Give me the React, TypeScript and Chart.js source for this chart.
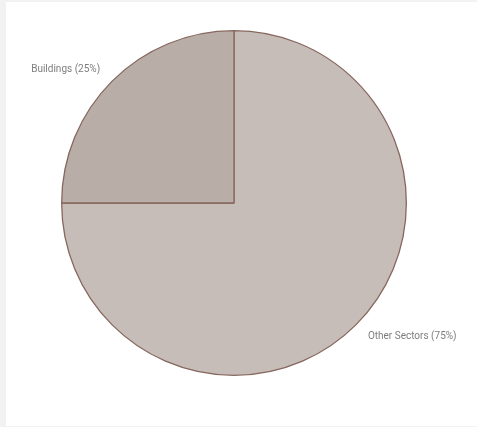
import React, { useEffect, useRef } from "react";
import { Chart, registerables } from "chart.js";

Chart.register(...registerables);

const categories = ["Other Sectors", "Buildings"];
const values = [75, 25];
const labelTexts = ["Other Sectors (75%)", "Buildings (25%)"];
const sliceColors = ["#c7bdb8", "#b9ada8"];

const outsideLabels = {
  id: "outsideLabels",
  afterDatasetsDraw(chart: any) {
    const ctx = chart.ctx;
    const meta = chart.getDatasetMeta(0);
    ctx.save();
    ctx.font = '10px "Roboto", sans-serif';
    ctx.fillStyle = "#7d7d7d";
    ctx.textBaseline = "middle";
    meta.data.forEach((arc: any, i: number) => {
      const p = arc.getProps(["x", "y", "startAngle", "endAngle", "outerRadius"], true);
      const mid = (p.startAngle + p.endAngle) / 2;
      const r = p.outerRadius + 17;
      const x = p.x + Math.cos(mid) * r;
      const y = p.y + Math.sin(mid) * r;
      ctx.textAlign = Math.cos(mid) >= 0 ? "left" : "right";
      ctx.fillText(labelTexts[i], x, y);
    });
    ctx.restore();
  },
};

export default function App() {
  const ref = useRef<HTMLCanvasElement>(null);
  useEffect(() => {
    if (!ref.current) return;
    const chart = new Chart(ref.current, {
      type: "pie",
      data: {
        labels: categories,
        datasets: [
          {
            data: values,
            backgroundColor: sliceColors,
            borderColor: "#86675d",
            borderWidth: 1.3,
          },
        ],
      },
      options: {
        animation: false,
        responsive: false,
        maintainAspectRatio: false,
        layout: { padding: { left: 55, right: 70, top: 28, bottom: 50 } },
        plugins: {
          legend: { display: false },
          tooltip: { enabled: false },
        },
      },
      plugins: [outsideLabels],
    });
    return () => chart.destroy();
  }, []);
  return (
    <div style={{ position: "fixed", inset: 0, background: "#f2f2f2" }}>
      <div
        style={{
          position: "absolute",
          left: 6,
          top: 2,
          width: 471,
          height: 424,
          background: "#ffffff",
        }}
      >
        <canvas ref={ref} width={471} height={424} style={{ display: "block" }} />
      </div>
    </div>
  );
}
